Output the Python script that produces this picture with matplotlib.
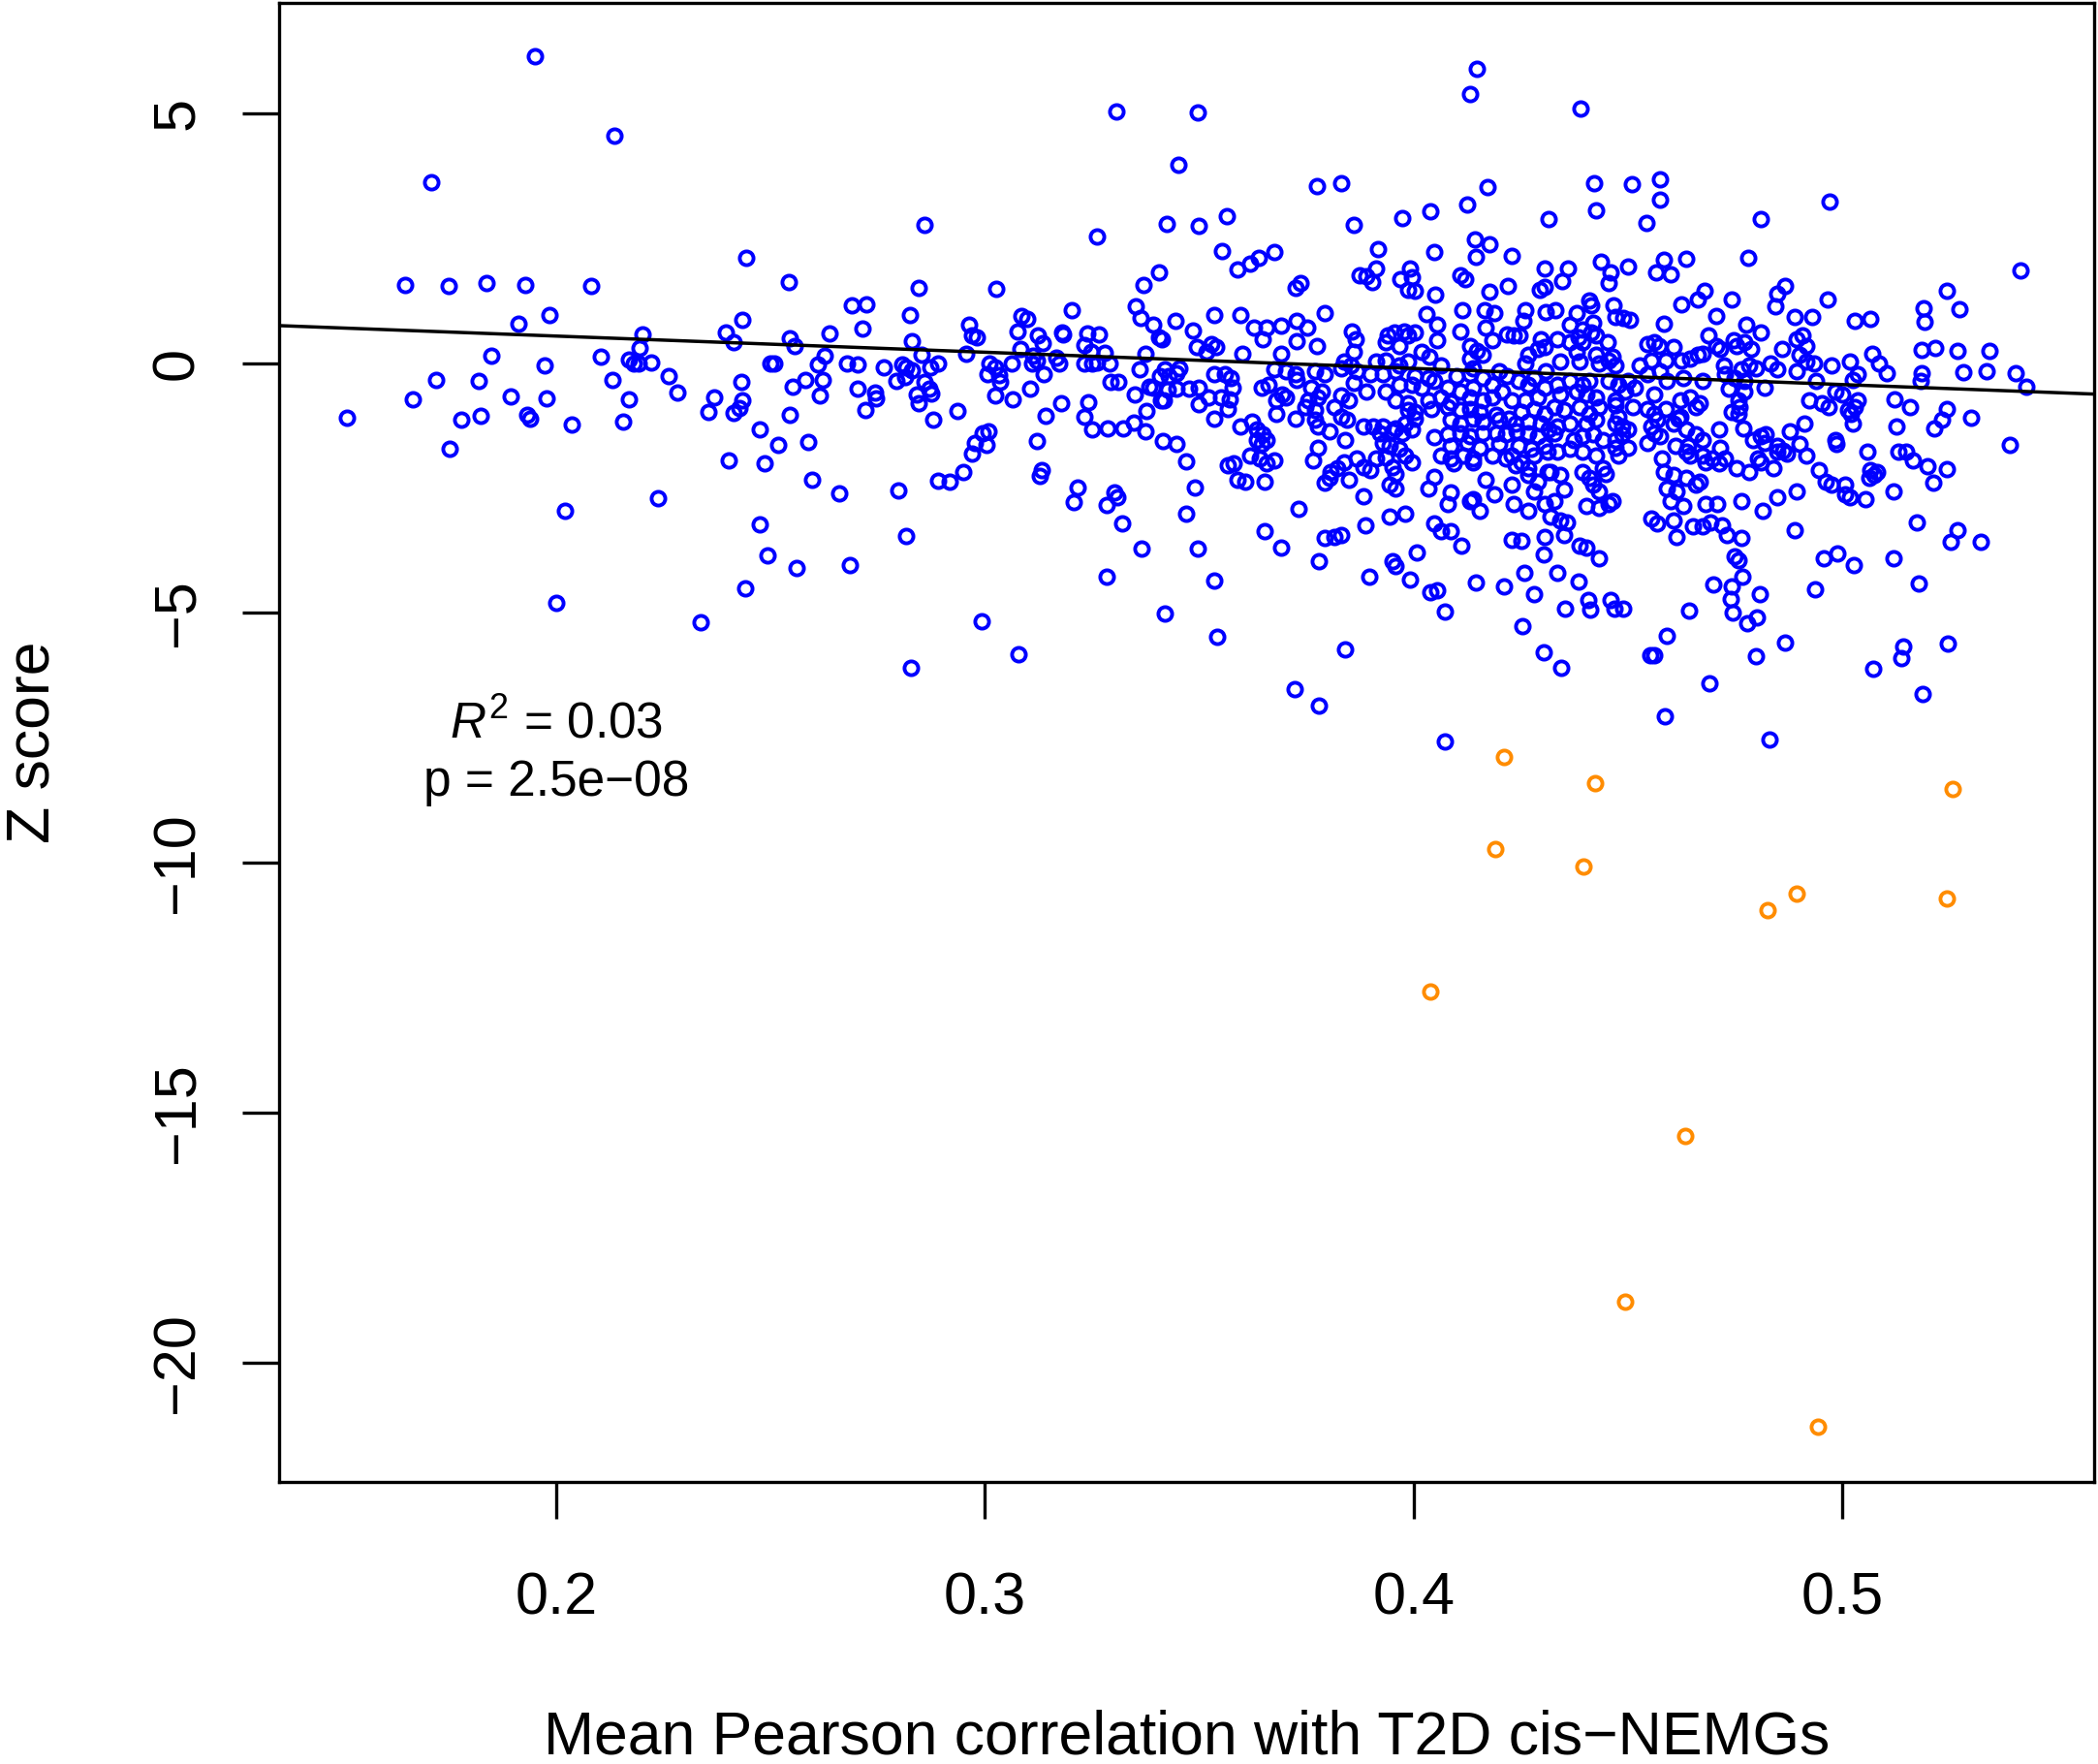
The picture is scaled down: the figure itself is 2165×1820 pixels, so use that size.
import numpy as np
import matplotlib
matplotlib.use("Agg")
import matplotlib.pyplot as plt

plt.rcParams['font.family'] = ['Liberation Sans', 'DejaVu Sans']
plt.rcParams['mathtext.fontset'] = 'custom'
plt.rcParams['mathtext.rm'] = 'Liberation Sans'
plt.rcParams['mathtext.it'] = 'Liberation Sans:italic'

# ---------------- data ----------------
pts_far_left = [
    (0.1950, 6.14), (0.2136, 4.55), (0.1707, 3.62), (0.2442, 2.10), (0.1648, 1.57), (0.1749, 1.54),
    (0.1838, 1.60), (0.1927, 1.56), (0.2081, 1.55), (0.2434, 0.87), (0.1912, 0.79), (0.1985, 0.96),
    (0.2201, 0.57), (0.2396, 0.62), (0.2413, 0.42), (0.2194, 0.31), (0.1849, 0.14), (0.1972, -0.04),
    (0.2103, 0.13), (0.2170, 0.07), (0.2180, 0.00), (0.2191, -0.01), (0.2222, 0.02), (0.2263, -0.26),
    (0.2283, -0.58), (0.2132, -0.33), (0.2170, -0.72), (0.2156, -1.17), (0.1720, -0.34), (0.1818, -0.36),
    (0.1666, -0.72), (0.1511, -1.09), (0.1778, -1.14), (0.1824, -1.05), (0.1894, -0.66), (0.1931, -1.03),
    (0.1939, -1.11), (0.1976, -0.71), (0.2035, -1.22), (0.1750, -1.71), (0.2368, -0.68), (0.2354, -0.98),
    (0.2432, -0.37), (0.2433, -0.75), (0.2426, -0.89), (0.2414, -1.00), (0.2403, -1.94), (0.2237, -2.71),
    (0.2020, -2.95), (0.2440, -4.51), (0.1999, -4.79), (0.2337, -5.18),
]

pts_left = [
    (0.3306, 5.03), (0.3497, 5.01), (0.3451, 3.96), (0.2859, 2.76), (0.3261, 2.54), (0.3423, 2.79),
    (0.3499, 2.75), (0.2542, 1.63), (0.2845, 1.50), (0.3026, 1.49), (0.3407, 1.81), (0.3370, 1.57),
    (0.3203, 1.06), (0.3352, 1.13), (0.3362, 0.91), (0.3393, 0.77), (0.3444, 0.84), (0.3405, 0.51),
    (0.3412, 0.48), (0.3485, 0.66), (0.3495, 0.33), (0.2690, 1.16), (0.2723, 1.17), (0.2825, 0.96),
    (0.2714, 0.69), (0.2638, 0.59), (0.2544, 0.50), (0.2557, 0.34), (0.2830, 0.43), (0.2962, 0.76),
    (0.2970, 0.55), (0.2981, 0.52), (0.3075, 0.63), (0.3086, 0.94), (0.3098, 0.88), (0.3124, 0.55),
    (0.3135, 0.40), (0.3083, 0.29), (0.3180, 0.62), (0.3182, 0.58), (0.3239, 0.60), (0.3265, 0.57),
    (0.3233, 0.37), (0.3247, 0.23), (0.3279, 0.21), (0.3375, 0.19), (0.3361, -0.12), (0.3420, -0.12),
    (0.3453, -0.11), (0.3446, -0.20), (0.3408, -0.26), (0.3429, -0.26), (0.3384, -0.48), (0.3393, -0.50),
    (0.3427, -0.53), (0.3446, -0.51), (0.3476, -0.52), (0.3411, -0.75), (0.3418, -0.75), (0.3499, -0.50),
    (0.3498, -0.82), (0.3349, -0.63), (0.3377, -0.96), (0.3347, -1.19), (0.3374, -1.36), (0.3414, -1.56),
    (0.3446, -1.61), (0.3469, -1.97), (0.3489, -2.49), (0.3469, -3.01), (0.3497, -3.71), (0.3365, -3.71),
    (0.3285, -4.28), (0.3419, -5.02), (0.3321, -3.20), (0.3301, -2.58), (0.3308, -2.68), (0.3284, -2.84),
    (0.3215, -2.49), (0.3207, -2.78), (0.3323, -1.31), (0.3287, -1.31), (0.3249, -1.33), (0.3233, -1.08),
    (0.3242, -0.78), (0.3177, -0.80), (0.3294, -0.37), (0.3312, -0.38), (0.3231, 0.00), (0.3250, 0.00),
    (0.3261, 0.02), (0.3290, -0.01), (0.3166, 0.10), (0.3173, -0.01), (0.3109, 0.00), (0.3122, 0.05),
    (0.3112, 0.14), (0.3137, -0.23), (0.3105, -0.51), (0.3141, -1.06), (0.3122, -1.56), (0.3132, -2.14),
    (0.3128, -2.25), (0.3062, -0.01), (0.3011, -0.01), (0.3025, -0.09), (0.3005, -0.22), (0.3034, -0.24),
    (0.3035, -0.38), (0.3025, -0.65), (0.3064, -0.73), (0.2955, 0.19), (0.2935, -0.95), (0.3009, -1.36),
    (0.2994, -1.41), (0.3003, -1.64), (0.2977, -1.60), (0.2970, -1.82), (0.2949, -2.18), (0.2918, -2.37),
    (0.2891, -2.35), (0.2798, -2.54), (0.2815, -3.45), (0.2880, -1.14), (0.2890, 0.00), (0.2873, -0.09),
    (0.2851, 0.16), (0.2870, -0.51), (0.2874, -0.61), (0.2858, -0.37), (0.2841, -0.63), (0.2845, -0.81),
    (0.2830, -0.15), (0.2808, -0.03), (0.2817, -0.09), (0.2813, -0.28), (0.2793, -0.36), (0.2765, -0.09),
    (0.2704, -0.03), (0.2677, -0.01), (0.2704, -0.52), (0.2744, -0.58), (0.2745, -0.70), (0.2720, -0.94),
    (0.2626, 0.15), (0.2610, -0.02), (0.2621, -0.33), (0.2581, -0.33), (0.2552, -0.47), (0.2615, -0.65),
    (0.2544, -1.03), (0.2500, -0.01), (0.2509, -0.01), (0.2587, -1.57), (0.2518, -1.64), (0.2596, -2.33),
    (0.2661, -2.61), (0.2474, -1.33), (0.2485, -2.00), (0.2475, -3.22), (0.2493, -3.85), (0.2560, -4.10),
    (0.2685, -4.04), (0.2992, -5.17), (0.3079, -5.83), (0.2827, -6.09),
]

pts_top = [
    (0.4148, 5.88), (0.4132, 5.39), (0.4390, 5.10), (0.3775, 3.55), (0.3830, 3.60), (0.4173, 3.53),
    (0.4421, 3.60), (0.4510, 3.59), (0.3565, 2.95), (0.3860, 2.76), (0.3974, 2.91), (0.4038, 3.04),
    (0.4124, 3.17), (0.4315, 2.89), (0.4426, 3.05), (0.4543, 2.81), (0.4574, 3.67), (0.4576, 3.28),
    (0.4970, 3.23), (0.4810, 2.88),
]

pts_center = [
    (0.3553, 2.25), (0.3589, 1.88), (0.3618, 1.99), (0.3640, 2.10), (0.3676, 2.23), (0.3917, 2.28),
    (0.4049, 2.23), (0.4143, 2.47), (0.4177, 2.37), (0.4145, 2.12), (0.4230, 2.15), (0.3875, 1.76),
    (0.3890, 1.74), (0.3913, 1.90), (0.3904, 1.63), (0.3970, 1.68), (0.3991, 1.89), (0.3996, 1.71),
    (0.3988, 1.46), (0.4003, 1.45), (0.4050, 1.37), (0.4109, 1.75), (0.4120, 1.68), (0.4221, 1.55),
    (0.4177, 1.42), (0.4305, 1.89), (0.4294, 1.46), (0.4305, 1.52), (0.3725, 1.50), (0.3736, 1.61),
    (0.3535, 0.97), (0.3597, 0.97), (0.3792, 1.01), (0.3627, 0.72), (0.3657, 0.71), (0.3691, 0.75),
    (0.3728, 0.84), (0.3751, 0.71), (0.3649, 0.48), (0.3726, 0.43), (0.3774, 0.34), (0.4030, 0.98),
    (0.4113, 1.06), (0.4166, 1.06), (0.4188, 1.00), (0.4056, 0.77), (0.4260, 1.05), (0.4256, 0.84),
    (0.4309, 1.03), (0.3856, 0.64), (0.3864, 0.48), (0.3939, 0.55), (0.3955, 0.61), (0.3977, 0.64),
    (0.4003, 0.61), (0.3988, 0.55), (0.3936, 0.42), (0.3966, 0.35), (0.4056, 0.46), (0.4109, 0.64),
    (0.4169, 0.71), (0.4184, 0.45), (0.4218, 0.58), (0.4234, 0.55), (0.4248, 0.56), (0.4297, 0.48),
    (0.3529, 0.38), (0.3540, 0.32), (0.3517, 0.22), (0.3600, 0.19), (0.3691, 0.19), (0.3860, 0.22),
    (0.4018, 0.22), (0.4037, 0.12), (0.4132, 0.35), (0.4147, 0.25), (0.4162, 0.16), (0.4132, 0.09),
    (0.4267, 0.16), (0.4290, 0.29), (0.4305, 0.32), (0.3838, 0.03), (0.3853, -0.04), (0.3913, 0.03),
    (0.3936, 0.06), (0.3966, -0.04), (0.3988, 0.03), (0.4064, -0.04), (0.4139, -0.10), (0.4260, -0.01),
    (0.3559, -0.23), (0.3574, -0.30), (0.3536, -0.23), (0.3676, -0.13), (0.3702, -0.17), (0.3725, -0.23),
    (0.3770, -0.17), (0.3792, -0.23), (0.3830, -0.10), (0.3868, -0.17), (0.3898, -0.23), (0.3928, -0.23),
    (0.3958, -0.17), (0.4003, -0.26), (0.4034, -0.30), (0.4049, -0.36), (0.4101, -0.26), (0.4132, -0.23),
    (0.4162, -0.30), (0.4200, -0.17), (0.4218, -0.26), (0.4282, -0.30), (0.4309, -0.17), (0.3578, -0.49),
    (0.3645, -0.49), (0.3661, -0.43), (0.3694, -0.62), (0.3728, -0.33), (0.3762, -0.49), (0.3785, -0.56),
    (0.3860, -0.39), (0.3890, -0.56), (0.3936, -0.56), (0.3966, -0.43), (0.3996, -0.43), (0.4018, -0.49),
    (0.4079, -0.49), (0.4109, -0.56), (0.4139, -0.49), (0.4184, -0.43), (0.4207, -0.56), (0.4245, -0.36),
    (0.4267, -0.43), (0.4305, -0.49), (0.3521, -0.68), (0.3551, -0.68), (0.3570, -0.72), (0.3679, -0.75),
    (0.3702, -0.68), (0.3755, -0.75), (0.3777, -0.68), (0.3815, -0.88), (0.3830, -0.65), (0.3849, -0.75),
    (0.3958, -0.75), (0.3988, -0.81), (0.4034, -0.75), (0.4064, -0.68), (0.4086, -0.78), (0.4132, -0.68),
    (0.4162, -0.75), (0.4184, -0.68), (0.4230, -0.75), (0.4260, -0.75), (0.4290, -0.68), (0.3566, -0.91),
    (0.3679, -1.01), (0.3747, -0.88), (0.3770, -0.94), (0.3988, -0.94), (0.4003, -0.98), (0.4041, -0.91),
    (0.4079, -0.88), (0.4109, -0.94), (0.4132, -0.91), (0.4154, -0.98), (0.4192, -1.04), (0.4222, -1.11),
    (0.4252, -0.98), (0.4282, -0.91), (0.4305, -1.01), (0.3536, -1.11), (0.3597, -1.27), (0.3623, -1.17),
    (0.3725, -1.11), (0.3770, -1.14), (0.3830, -1.07), (0.3845, -1.14), (0.3883, -1.27), (0.3906, -1.27),
    (0.3928, -1.27), (0.3958, -1.30), (0.3981, -1.20), (0.4003, -1.11), (0.4086, -1.14), (0.4109, -1.20),
    (0.4139, -1.11), (0.4162, -1.17), (0.4200, -1.14), (0.4237, -1.20), (0.4267, -1.17), (0.4297, -1.20),
    (0.3634, -1.33), (0.3649, -1.43), (0.3657, -1.53), (0.3777, -1.27), (0.3804, -1.36), (0.3921, -1.40),
    (0.3951, -1.36), (0.3973, -1.40), (0.3996, -1.33), (0.4049, -1.49), (0.4079, -1.43), (0.4109, -1.40),
    (0.4132, -1.46), (0.4162, -1.40), (0.4192, -1.40), (0.4215, -1.43), (0.4241, -1.36), (0.4267, -1.40),
    (0.4290, -1.46), (0.4316, -1.33), (0.3634, -1.53), (0.3645, -1.62), (0.3841, -1.53), (0.3928, -1.59),
    (0.3943, -1.66), (0.3966, -1.72), (0.4086, -1.66), (0.4124, -1.59), (0.4154, -1.69), (0.4200, -1.62),
    (0.4245, -1.66), (0.4275, -1.72), (0.4305, -1.66), (0.3777, -1.69), (0.3619, -1.85), (0.3642, -1.91),
    (0.3676, -1.95), (0.3657, -2.01), (0.3766, -1.95), (0.3913, -1.91), (0.3936, -1.88), (0.3981, -1.85),
    (0.3996, -1.98), (0.4064, -1.85), (0.4086, -1.91), (0.4117, -1.85), (0.4139, -1.91), (0.4184, -1.85),
    (0.4215, -1.91), (0.4230, -1.85), (0.4252, -1.98), (0.4282, -1.85), (0.4313, -1.78), (0.3566, -2.04),
    (0.3581, -2.01), (0.3807, -2.17), (0.3822, -2.11), (0.3838, -1.98), (0.3868, -1.91), (0.3883, -2.08),
    (0.3898, -2.14), (0.3951, -2.08), (0.3958, -2.21), (0.4094, -2.01), (0.4139, -1.98), (0.4237, -2.04),
    (0.4267, -2.11), (0.4313, -2.17), (0.3589, -2.33), (0.3608, -2.37), (0.3653, -2.37), (0.3792, -2.40),
    (0.3804, -2.30), (0.3849, -2.33), (0.3943, -2.43), (0.3958, -2.50), (0.4049, -2.27), (0.4034, -2.50),
    (0.4169, -2.33), (0.4230, -2.43), (0.4267, -2.24), (0.4290, -2.37), (0.3883, -2.66), (0.4086, -2.59),
    (0.4079, -2.82), (0.4139, -2.72), (0.4132, -2.76), (0.4188, -2.63), (0.4234, -2.82), (0.4267, -2.95),
    (0.4282, -2.56), (0.4305, -2.82), (0.3732, -2.92), (0.3943, -3.08), (0.3981, -3.01), (0.4049, -3.21),
    (0.4064, -3.37), (0.4086, -3.37), (0.4154, -2.95), (0.3653, -3.37), (0.3792, -3.50), (0.3815, -3.47),
    (0.3830, -3.44), (0.3887, -3.24), (0.4230, -3.53), (0.4252, -3.56), (0.4305, -3.47),
]

pts_right = [
    (0.4437, 2.03), (0.4459, 1.81), (0.4456, 1.61), (0.4501, 1.94), (0.4361, 1.90), (0.4346, 1.65),
    (0.4565, 1.81), (0.4584, 2.07), (0.4599, 1.77), (0.4635, 2.09), (0.4781, 2.10), (0.4331, 1.06),
    (0.4380, 1.00), (0.4410, 1.26), (0.4414, 1.16), (0.4467, 1.16), (0.4471, 0.93), (0.4490, 0.90),
    (0.4505, 0.87), (0.4365, 0.77), (0.4395, 0.67), (0.4418, 0.80), (0.4414, 0.61), (0.4584, 0.78),
    (0.4625, 1.18), (0.4663, 1.27), (0.4678, 1.45), (0.4742, 1.27), (0.4705, 0.95), (0.4848, 1.39),
    (0.4867, 1.55), (0.4844, 1.14), (0.4889, 0.93), (0.4929, 0.92), (0.4965, 1.27), (0.5029, 0.84),
    (0.5065, 0.88), (0.4335, 0.48), (0.4365, 0.42), (0.4384, 0.51), (0.4395, 0.42), (0.4426, 0.55),
    (0.4452, 0.42), (0.4380, 0.22), (0.4426, 0.16), (0.4463, 0.12), (0.4546, 0.38), (0.4561, 0.42),
    (0.4573, 0.35), (0.4607, 0.32), (0.4689, 0.55), (0.4705, 0.35), (0.4716, 0.29), (0.4746, 0.45),
    (0.4754, 0.35), (0.4776, 0.77), (0.4810, 0.61), (0.4772, 0.42), (0.4787, 0.29), (0.4859, 0.29),
    (0.4893, 0.48), (0.4908, 0.55), (0.4916, 0.35), (0.4901, 0.16), (0.5070, 0.19), (0.5085, -0.01),
    (0.5104, -0.20), (0.4976, -0.04), (0.5017, 0.03), (0.5036, -0.23), (0.5025, -0.33), (0.4343, 0.03),
    (0.4388, 0.03), (0.4433, -0.01), (0.4456, 0.06), (0.4471, -0.04), (0.4527, -0.04), (0.4554, 0.06),
    (0.4588, 0.06), (0.4625, 0.06), (0.4644, 0.09), (0.4663, 0.16), (0.4674, 0.19), (0.4723, -0.04),
    (0.4765, -0.13), (0.4784, -0.04), (0.4799, -0.10), (0.4833, -0.01), (0.4848, -0.13), (0.4916, 0.03),
    (0.4935, -0.01), (0.4893, -0.17), (0.4335, -0.43), (0.4365, -0.36), (0.4395, -0.43), (0.4410, -0.36),
    (0.4456, -0.36), (0.4478, -0.43), (0.4501, -0.36), (0.4516, -0.49), (0.4546, -0.23), (0.4576, -0.17),
    (0.4591, -0.36), (0.4629, -0.30), (0.4674, -0.36), (0.4727, -0.23), (0.4750, -0.30), (0.4772, -0.36),
    (0.4818, -0.49), (0.4938, -0.36), (0.4984, -0.56), (0.4999, -0.62), (0.5036, -0.75), (0.5029, -0.88),
    (0.4343, -0.62), (0.4380, -0.56), (0.4403, -0.62), (0.4426, -0.68), (0.4471, -0.75), (0.4493, -0.56),
    (0.4512, -0.88), (0.4561, -0.62), (0.4622, -0.75), (0.4644, -0.68), (0.4667, -0.81), (0.4735, -0.52),
    (0.4772, -0.56), (0.4757, -0.75), (0.4923, -0.75), (0.4953, -0.81), (0.4968, -0.88), (0.5021, -1.01),
    (0.5123, -0.72), (0.4328, -0.88), (0.4350, -0.94), (0.4388, -0.88), (0.4410, -1.01), (0.4433, -0.88),
    (0.4471, -0.85), (0.4478, -1.07), (0.4546, -0.91), (0.4561, -1.01), (0.4588, -0.91), (0.4622, -1.07),
    (0.4659, -0.88), (0.4742, -0.98), (0.4757, -1.01), (0.4761, -0.88), (0.5014, -0.94), (0.5127, -1.27),
    (0.4335, -1.27), (0.4365, -1.20), (0.4403, -1.20), (0.4426, -1.14), (0.4471, -1.20), (0.4486, -1.27),
    (0.4501, -1.33), (0.4554, -1.27), (0.4569, -1.14), (0.4607, -1.20), (0.4618, -1.11), (0.4637, -1.33),
    (0.4659, -1.43), (0.4712, -1.33), (0.4769, -1.30), (0.4821, -1.43), (0.4878, -1.36), (0.4912, -1.20),
    (0.5025, -1.20), (0.4328, -1.40), (0.4373, -1.53), (0.4395, -1.46), (0.4418, -1.43), (0.4441, -1.53),
    (0.4471, -1.53), (0.4486, -1.43), (0.4546, -1.59), (0.4561, -1.40), (0.4576, -1.46), (0.4610, -1.66),
    (0.4640, -1.66), (0.4674, -1.53), (0.4716, -1.69), (0.4791, -1.53), (0.4810, -1.46), (0.4818, -1.59),
    (0.4848, -1.66), (0.4863, -1.75), (0.4901, -1.62), (0.4984, -1.53), (0.4987, -1.62), (0.5059, -1.78),
    (0.5131, -1.78), (0.4335, -1.78), (0.4365, -1.72), (0.4395, -1.78), (0.4426, -1.85), (0.4471, -1.69),
    (0.4478, -1.85), (0.4501, -1.69), (0.4580, -1.91), (0.4637, -1.78), (0.4644, -1.85), (0.4674, -1.85),
    (0.4682, -1.98), (0.4697, -1.91), (0.4712, -2.01), (0.4727, -1.91), (0.4754, -2.11), (0.4784, -2.17),
    (0.4803, -1.91), (0.4810, -1.98), (0.4840, -2.11), (0.4848, -1.78), (0.4870, -1.82), (0.4916, -1.85),
    (0.4946, -2.14), (0.5066, -2.14), (0.5074, -2.24), (0.5082, -2.17), (0.4320, -2.17), (0.4343, -2.24),
    (0.4395, -2.17), (0.4410, -2.30), (0.4441, -2.11), (0.4448, -2.21), (0.4584, -2.17), (0.4607, -2.24),
    (0.4637, -2.30), (0.4667, -2.37), (0.4961, -2.37), (0.4976, -2.43), (0.5006, -2.43), (0.5063, -2.30),
    (0.4350, -2.53), (0.4418, -2.43), (0.4433, -2.56), (0.4591, -2.50), (0.4614, -2.56), (0.4659, -2.43),
    (0.4848, -2.69), (0.4893, -2.56), (0.4765, -2.76), (0.5006, -2.63), (0.5017, -2.69), (0.5055, -2.72),
    (0.5119, -2.56), (0.4328, -2.76), (0.4403, -2.85), (0.4433, -2.89), (0.4456, -2.82), (0.4463, -2.76),
    (0.4599, -2.76), (0.4629, -2.85), (0.4682, -2.82), (0.4708, -2.82), (0.4814, -2.95), (0.4320, -3.08),
    (0.4343, -3.14), (0.4358, -3.18), (0.4554, -3.11), (0.4569, -3.21), (0.4607, -3.14), (0.4614, -3.47),
    (0.4652, -3.27), (0.4674, -3.27), (0.4693, -3.18), (0.4720, -3.24), (0.4731, -3.44), (0.4765, -3.50),
    (0.4889, -3.34), (0.4350, -3.44),
]

pts_far_right = [
    (0.5416, 1.86), (0.5244, 1.44), (0.5189, 1.10), (0.5273, 1.08), (0.5192, 0.82), (0.5186, 0.27),
    (0.5217, 0.31), (0.5268, 0.24), (0.5343, 0.25), (0.5186, -0.21), (0.5183, -0.36), (0.5282, -0.19),
    (0.5337, -0.17), (0.5404, -0.21), (0.5429, -0.48), (0.5158, -0.88), (0.5243, -0.91), (0.5232, -1.14),
    (0.5215, -1.30), (0.5300, -1.09), (0.5390, -1.64), (0.5149, -1.78), (0.5164, -1.95), (0.5198, -2.06),
    (0.5245, -2.13), (0.5213, -2.40), (0.5175, -3.19), (0.5268, -3.35), (0.5254, -3.57), (0.5324, -3.58),
]

pts_low = [
    (0.3691, -3.70), (0.3778, -3.97), (0.3535, -4.36), (0.3897, -4.27), (0.3951, -3.97), (0.3958, -4.07),
    (0.4007, -3.79), (0.3991, -4.34), (0.4038, -4.59), (0.4055, -4.54), (0.4074, -4.98), (0.4111, -3.65),
    (0.4145, -4.39), (0.4211, -4.46), (0.4303, -3.82), (0.4258, -4.20), (0.4280, -4.63), (0.4335, -4.20),
    (0.4388, -3.66), (0.4403, -3.70), (0.4433, -3.90), (0.4386, -4.38), (0.4407, -4.74), (0.4411, -4.93),
    (0.4354, -4.92), (0.4460, -4.74), (0.4469, -4.91), (0.4488, -4.91), (0.4254, -5.27), (0.4303, -5.79),
    (0.4344, -6.09), (0.3542, -5.47), (0.3840, -5.72), (0.3723, -6.53), (0.3780, -6.85), (0.4072, -7.58),
    (0.4749, -3.86), (0.4757, -3.95), (0.4957, -3.90), (0.4988, -3.81), (0.5028, -4.04), (0.5119, -3.91),
    (0.5179, -4.41), (0.4766, -4.28), (0.4700, -4.43), (0.4743, -4.47), (0.4807, -4.62), (0.4936, -4.52),
    (0.4739, -4.73), (0.4642, -4.96), (0.4744, -5.00), (0.4779, -5.20), (0.4801, -5.09), (0.4591, -5.46),
    (0.4561, -5.84), (0.4553, -5.84), (0.4866, -5.59), (0.4798, -5.87), (0.5143, -5.67), (0.5137, -5.90),
    (0.5246, -5.61), (0.5072, -6.11), (0.5187, -6.63), (0.4690, -6.40), (0.4587, -7.06), (0.4831, -7.53),
]

orange_x = [0.4038, 0.4211, 0.4424, 0.4190, 0.4397, 0.4894, 0.4825, 0.5258, 0.5244, 0.4634, 0.4494, 0.4944]
orange_y = [-12.57, -7.88, -8.41, -9.73, -10.07, -10.62, -10.94, -8.53, -10.72, -15.47, -18.79, -21.29]

fit_intercept = 1.188
fit_slope = -3.235

x_ticks = [0.2, 0.3, 0.4, 0.5]
x_tick_labels = ["0.2", "0.3", "0.4", "0.5"]
y_ticks = [-20, -15, -10, -5, 0, 5]
y_tick_labels = ["\u221220", "\u221215", "\u221210", "\u22125", "0", "5"]

x_label = "Mean Pearson correlation with T2D cis\u2212NEMGs"
y_label = "Z score"
r2_text = r"$R^2$ = 0.03"
p_text = "p = 2.5e\u221208"
annot_x = 0.2
r2_y = -7.50
p_y = -8.66

# ---------------- plotting ----------------
blue = np.array(pts_far_left + pts_left + pts_top + pts_center + pts_right + pts_far_right + pts_low)

fig = plt.figure(figsize=(21.65, 18.20), dpi=100)
ax = fig.add_axes([0.1330, 0.1599, 0.9982 - 0.1330, 0.9984 - 0.1599])

ax.plot(blue[:, 0], blue[:, 1], linestyle='none', marker='o', markersize=10.2,
        markerfacecolor='none', markeredgecolor='#0000FF', markeredgewidth=2.8)
ax.plot(orange_x, orange_y, linestyle='none', marker='o', markersize=10.2,
        markerfacecolor='none', markeredgecolor='#FF8C00', markeredgewidth=2.8)

ax.set_xlim(0.1353, 0.5588)
ax.set_ylim(-22.39, 7.21)
ax.axline((0.0, fit_intercept), slope=fit_slope, color='black', linewidth=2.5, zorder=3)

ax.set_xticks(x_ticks)
ax.set_xticklabels(x_tick_labels)
ax.set_yticks(y_ticks)
ax.set_yticklabels(y_tick_labels, rotation=90, va='center')
ax.tick_params(axis='both', direction='out', length=27.4, width=2.4, labelsize=44)
ax.tick_params(axis='x', pad=39.5)
ax.tick_params(axis='y', pad=27)
for s in ax.spines.values():
    s.set_linewidth(2.4)

ax.set_xlabel(x_label, fontsize=45)
ax.xaxis.set_label_coords(0.5, -0.1840)
ax.xaxis.label.set_va('baseline')
ax.set_ylabel(y_label, fontsize=45)
ax.yaxis.set_label_coords(-0.1265, 0.5)
ax.yaxis.label.set_va('baseline')

ax.text(annot_x, r2_y, r2_text, fontsize=37, ha='center', va='baseline')
ax.text(annot_x, p_y, p_text, fontsize=37, ha='center', va='baseline')

fig.savefig("out.png", dpi=100)
